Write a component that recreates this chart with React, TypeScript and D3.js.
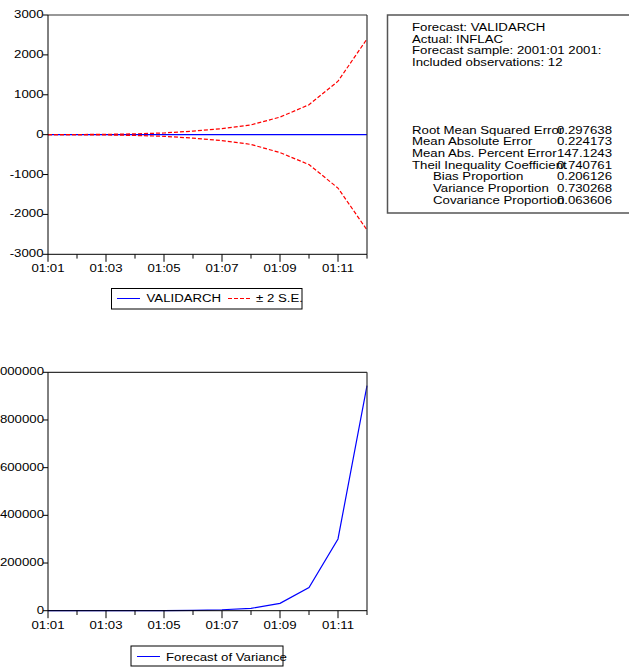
import React from "react";
import * as d3 from "d3";

const months = ["01:01","01:02","01:03","01:04","01:05","01:06","01:07","01:08","01:09","01:10","01:11","01:12"];
const tickLabelMonths = ["01:01","01:03","01:05","01:07","01:09","01:11"];

const forecastValues = [0.42, 0.40, 0.39, 0.38, 0.37, 0.37, 0.36, 0.36, 0.35, 0.35, 0.35, 0.35];
const upperBand = [0.5, 3, 8, 20, 42, 88, 150, 245, 440, 750, 1340, 2400];
const lowerBand = [-0.5, -3, -8, -20, -42, -88, -150, -245, -450, -750, -1340, -2390];
const varianceValues = [0.05, 2, 8, 30, 150, 1200, 4000, 9800, 31000, 97000, 301000, 944000];

const topYTicks = [3000, 2000, 1000, 0, -1000, -2000, -3000];
const bottomYTicks = [0, 200000, 400000, 600000, 800000, 1000000];

const headerLines = ["Forecast: VALIDARCH", "Actual: INFLAC", "Forecast sample: 2001:01 2001:", "Included observations: 12"];
const statLabels = ["Root Mean Squared Error", "Mean Absolute Error", "Mean Abs. Percent Error", "Theil Inequality Coefficient", "Bias Proportion", "Variance Proportion", "Covariance Proportion"];
const statIndented = [false, false, false, false, true, true, true];
const statValues = ["0.297638", "0.224173", "147.1243", "0.740761", "0.206126", "0.730268", "0.063606"];

const FONT = "'Liberation Sans', Arial, Helvetica, sans-serif";
const SX = 1.15;

function SText({ x, y, anchor = "start", size = 11.5, children }: any) {
  return (
    <text transform={`translate(${x},${y}) scale(${SX},1)`} textAnchor={anchor} fontSize={size} fontFamily={FONT} fill="#000">
      {children}
    </text>
  );
}

const X0 = 48, X1 = 367;

function XAxis({ x, y }: any) {
  return (
    <g>
      <line x1={X0} x2={X1} y1={y} y2={y} stroke="#000" strokeWidth={1} />
      {months.map((m, i) => {
        const major = tickLabelMonths.includes(m);
        return <line key={m} x1={x(m)} x2={x(m)} y1={y} y2={y + (major ? 7.5 : 4.3)} stroke="#000" strokeWidth={1} />;
      })}
      {tickLabelMonths.map((m) => (
        <SText key={m} x={x(m)} y={y + 17.8} anchor="middle">{m}</SText>
      ))}
    </g>
  );
}

export default function App() {
  const x = d3.scalePoint<string>().domain(months).range([X0, X1]);

  // Top chart
  const topT = 15, topB = 254.3;
  const yTop = d3.scaleLinear().domain([-3000, 3000]).range([topB, topT]);
  const lineTop = d3.line<number>().x((_, i) => x(months[i]) as number).y((d) => yTop(d));

  // Bottom chart
  const botT = 372.3, botB = 610.7;
  const yBot = d3.scaleLinear().domain([0, 1000000]).range([botB, botT]);
  const lineBot = d3.line<number>().x((_, i) => x(months[i]) as number).y((d) => yBot(d));

  const boxL = 387.5, boxT = 15, boxB = 213;
  const lh = 11.7;

  return (
    <svg width={629} height={667} style={{ position: "absolute", left: 0, top: 0, background: "#fff" }}>
      <rect x={0} y={0} width={629} height={667} fill="#fff" />

      {/* ---------- Top chart ---------- */}
      <g>
        <path d={lineTop(forecastValues) as string} fill="none" stroke="#0000ff" strokeWidth={1.2} />
        <path d={lineTop(upperBand) as string} fill="none" stroke="#ff0000" strokeWidth={1.2} strokeDasharray="4,2" />
        <path d={lineTop(lowerBand) as string} fill="none" stroke="#ff0000" strokeWidth={1.2} strokeDasharray="4,2" />
        <line x1={X0} x2={X1} y1={topT} y2={topT} stroke="#333" strokeWidth={1.2} />
        <line x1={X1} x2={X1} y1={topT} y2={topB} stroke="#333" strokeWidth={1.2} />
        <line x1={X0} x2={X0} y1={topT} y2={topB} stroke="#000" strokeWidth={1} />
        {topYTicks.map((t) => (
          <g key={t}>
            <line x1={X0 - 5} x2={X0} y1={yTop(t)} y2={yTop(t)} stroke="#000" strokeWidth={1} />
            <SText x={X0 - 4.5} y={yTop(t) + 3} anchor="end">{t}</SText>
          </g>
        ))}
        <XAxis x={x} y={topB} />
        {/* legend */}
        <rect x={111.5} y={288.5} width={190.5} height={20.5} fill="none" stroke="#000" strokeWidth={1} />
        <line x1={117} x2={140} y1={298.5} y2={298.5} stroke="#0000ff" strokeWidth={1} />
        <SText x={146.5} y={302}>VALIDARCH</SText>
        <line x1={228} x2={252} y1={298.5} y2={298.5} stroke="#ff0000" strokeWidth={1} strokeDasharray="4,2" />
        <SText x={256} y={302}>± 2 S.E.</SText>
      </g>

      {/* ---------- Stats box ---------- */}
      <g>
        <path d={`M640,${boxT}H${boxL}V${boxB}H640`} fill="none" stroke="#555" strokeWidth={1.5} />
        {headerLines.map((t, i) => (
          <SText key={t} x={412} y={boxT + 16 + i * lh}>{t}</SText>
        ))}
        {statLabels.map((t, i) => (
          <SText key={t} x={statIndented[i] ? 433 : 412} y={133.5 + i * lh}>{t}</SText>
        ))}
        {statValues.map((v, i) => (
          <SText key={i} x={612} y={133.5 + i * lh} anchor="end">{v}</SText>
        ))}
      </g>

      {/* ---------- Bottom chart ---------- */}
      <g>
        <path d={lineBot(varianceValues) as string} fill="none" stroke="#0000ff" strokeWidth={1.2} />
        <line x1={X0} x2={X1} y1={botT} y2={botT} stroke="#333" strokeWidth={1.2} />
        <line x1={X1} x2={X1} y1={botT} y2={botB} stroke="#333" strokeWidth={1.2} />
        <line x1={X0} x2={X0} y1={botT} y2={botB} stroke="#000" strokeWidth={1} />
        {bottomYTicks.map((t) => (
          <g key={t}>
            <line x1={X0 - 5} x2={X0} y1={yBot(t)} y2={yBot(t)} stroke="#000" strokeWidth={1} />
            <SText x={X0 - 4} y={yBot(t) + 3} anchor="end">{t}</SText>
          </g>
        ))}
        <XAxis x={x} y={botB} />
        {/* legend */}
        <rect x={131} y={646} width={152} height={20} fill="none" stroke="#000" strokeWidth={1} />
        <line x1={137} x2={160} y1={656.5} y2={656.5} stroke="#0000ff" strokeWidth={1} />
        <SText x={166} y={660.5}>Forecast of Variance</SText>
      </g>
    </svg>
  );
}
